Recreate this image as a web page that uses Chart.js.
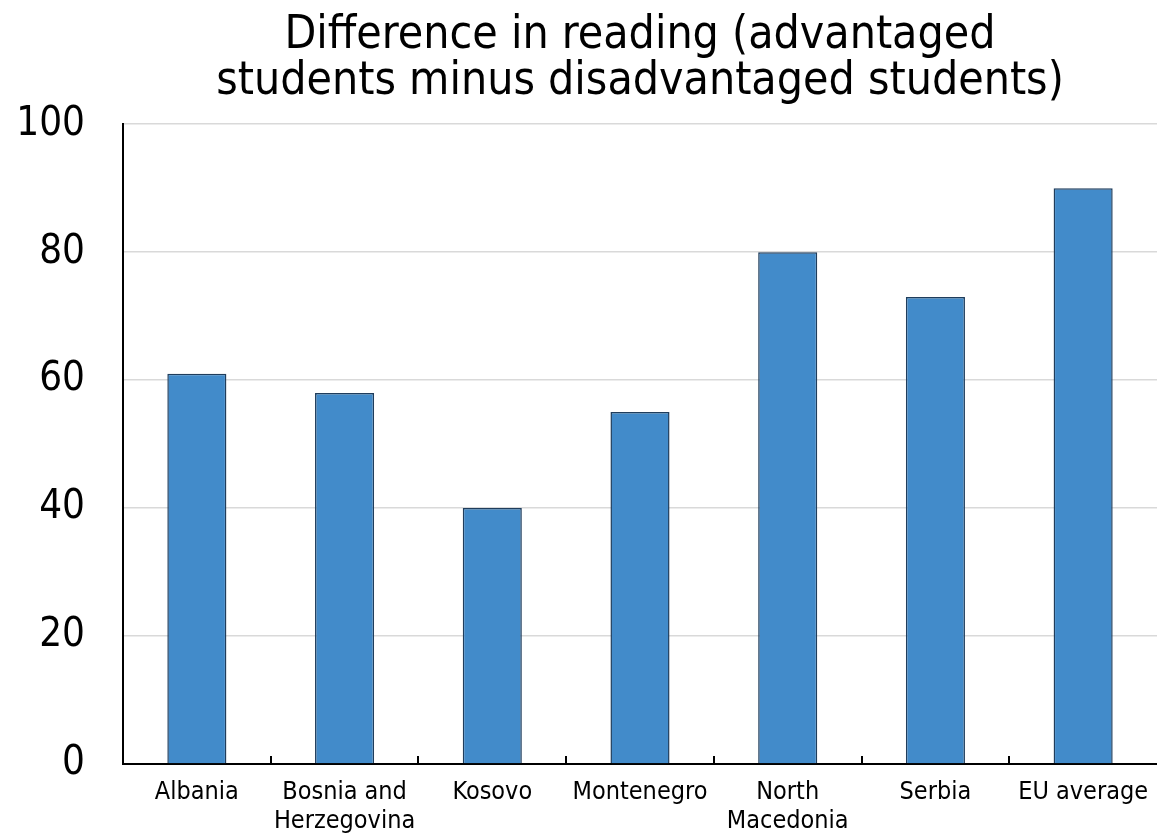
<!DOCTYPE html>
<html>
<head>
<meta charset="utf-8">
<script src="https://cdn.jsdelivr.net/npm/chart.js@4/dist/chart.umd.min.js"></script>
<style>
  html, body { margin: 0; padding: 0; background: #fff; }
  #wrap { width: 1157px; height: 839px; position: relative; }
</style>
</head>
<body>
<div id="wrap"><canvas id="readingChart"></canvas></div>
<script>
const categories = ['Albania', ['Bosnia and', 'Herzegovina'], 'Kosovo', 'Montenegro', ['North', 'Macedonia'], 'Serbia', 'EU average'];
const gapValues = [61, 58, 40, 55, 80, 73, 90];
const yTicks = [0, 20, 40, 60, 80, 100];

const FONT = "'DejaVu Sans Condensed', 'DejaVu Sans', sans-serif";

// small tick marks pointing up from the x axis, between categories
const innerTicks = {
  id: 'innerTicks',
  afterDraw(chart) {
    const x = chart.scales.x;
    const ctx = chart.ctx;
    const bottom = chart.chartArea.bottom;
    ctx.save();
    ctx.strokeStyle = '#000';
    ctx.lineWidth = 2;
    for (let i = 1; i < categories.length; i++) {
      const px = Math.round((x.getPixelForValue(i - 1) + x.getPixelForValue(i)) / 2);
      ctx.beginPath();
      ctx.moveTo(px, bottom);
      ctx.lineTo(px, bottom - 8);
      ctx.stroke();
    }
    ctx.restore();
  }
};

const ctx = document.getElementById('readingChart').getContext('2d');
new Chart(ctx, {
  type: 'bar',
  data: {
    labels: categories,
    datasets: [{
      data: gapValues,
      backgroundColor: '#428bca',
      borderColor: '#1f3d5c',
      borderWidth: 1.5,
      barPercentage: 0.4,
      categoryPercentage: 1
    }]
  },
  options: {
    responsive: true,
    maintainAspectRatio: false,
    animation: false,
    layout: { padding: { left: 15, right: 0, top: 0, bottom: 0 } },
    plugins: {
      legend: { display: false },
      tooltip: { enabled: false },
      title: {
        display: true,
        fullSize: false,
        text: ['Difference in reading (advantaged', 'students minus disadvantaged students)'],
        color: '#000',
        font: { family: FONT, size: 46, weight: 'normal', lineHeight: 0.98 },
        padding: { top: 14, bottom: 20 }
      }
    },
    scales: {
      x: {
        afterFit(scale) {
          scale.height = 75;
          scale.paddingLeft = 0;
          scale.paddingRight = 0;
        },
        grid: { display: false, drawTicks: false },
        border: { display: true, color: '#000', width: 2 },
        ticks: {
          color: '#000',
          padding: 14,
          maxRotation: 0,
          autoSkip: false,
          font: { family: FONT, size: 25, lineHeight: 1.16 }
        }
      },
      y: {
        min: 0,
        max: 100,
        afterBuildTicks(scale) { scale.ticks = yTicks.map(v => ({ value: v })); },
        afterFit(scale) { scale.width = 108; },
        grid: { color: '#d9d9d9', lineWidth: 1.5, drawTicks: false },
        border: { display: true, color: '#000', width: 2 },
        ticks: {
          color: '#000',
          padding: 38,
          font: { family: FONT, size: 40 }
        }
      }
    }
  },
  plugins: [innerTicks]
});
</script>
</body>
</html>
